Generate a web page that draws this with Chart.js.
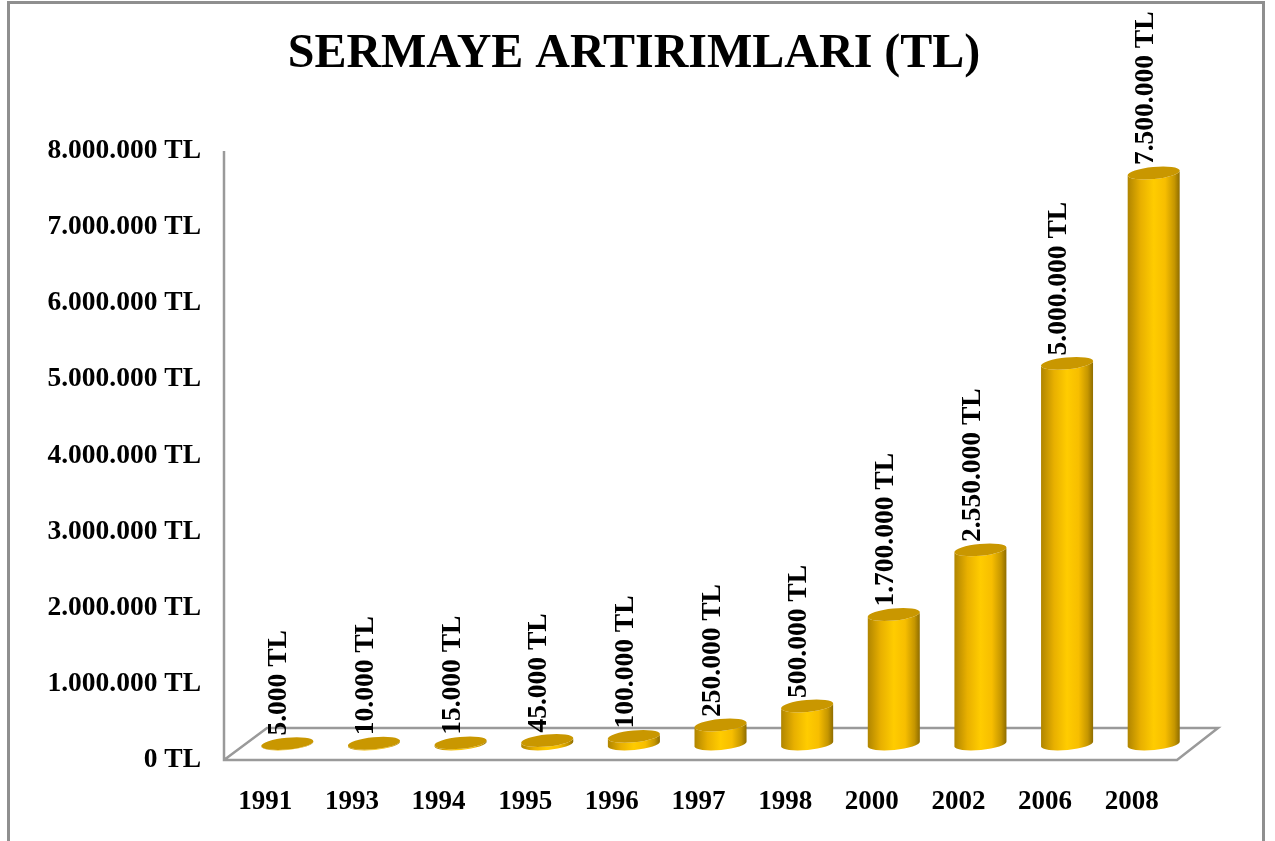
<!DOCTYPE html>
<html><head><meta charset="utf-8">
<style>
html,body{margin:0;padding:0;background:#fff;overflow:hidden}
#frame{position:absolute;left:7px;top:1px;width:1252px;height:860px;border:3px solid #8f8f8f;box-sizing:content-box}
#wrap{position:absolute;left:0;top:0;width:1275px;height:841px}
</style>
<script src="https://cdn.jsdelivr.net/npm/chart.js@4/dist/chart.umd.min.js"></script>
</head><body>
<div id="frame"></div>
<div id="wrap"><canvas id="c" width="1275" height="841"></canvas></div>
<script>
const years = ['1991','1993','1994','1995','1996','1997','1998','2000','2002','2006','2008'];
const capital = [5000,10000,15000,45000,100000,250000,500000,1700000,2550000,5000000,7500000];
const chartTitle = 'SERMAYE ARTIRIMLARI (TL)';
const SERIF = '"Liberation Serif","Times New Roman",serif';
const DEPTH_X = 20, DEPTH_Y = 16;
const fmt = v => String(v).replace(/\B(?=(\d{3})+$)/g,'.') + ' TL';

function cylinder(ctx, el){
  const x = el.x + DEPTH_X, top = el.y - DEPTH_Y, base = el.base - DEPTH_Y;
  const w = el.width/2, ry = 6, rx = w + 0.2, tilt = -0.095, dy = w*Math.sin(-tilt);
  const g = ctx.createLinearGradient(x-w,0,x+w,0);
  g.addColorStop(0,'#b08500'); g.addColorStop(0.25,'#e8b000'); g.addColorStop(0.5,'#ffcc00');
  g.addColorStop(0.72,'#f7be00'); g.addColorStop(0.9,'#c59600'); g.addColorStop(1,'#8f6d00');
  ctx.save();
  ctx.beginPath();
  ctx.moveTo(x-w, top+dy);
  ctx.lineTo(x-w, base+dy);
  ctx.ellipse(x, base, rx, ry, tilt, Math.PI, 0, true);
  ctx.lineTo(x+w, top-dy);
  ctx.ellipse(x, top, rx, ry, tilt, 0, Math.PI, false);
  ctx.closePath();
  ctx.fillStyle = g; ctx.fill();
  ctx.beginPath();
  ctx.ellipse(x, top, rx, ry, tilt, 0, Math.PI*2);
  ctx.fillStyle = '#c99700'; ctx.fill();
  ctx.restore();
}

const scene = {
  id:'scene',
  beforeDatasetsDraw(chart){
    const {ctx, chartArea:a} = chart;
    ctx.save();
    ctx.strokeStyle = '#9a9a9a'; ctx.lineWidth = 2.5;
    ctx.beginPath();
    ctx.moveTo(a.left, a.top); ctx.lineTo(a.left, a.bottom); ctx.lineTo(a.right, a.bottom);
    ctx.lineTo(a.right+41, a.bottom-32); ctx.lineTo(a.left+43, a.bottom-32); ctx.lineTo(a.left, a.bottom);
    ctx.stroke();
    ctx.restore();
  },
  beforeDatasetDraw(chart, args){
    args.meta.data.forEach(el => { el.draw = c => cylinder(c, el); });
  },
  afterDatasetsDraw(chart){
    const ctx = chart.ctx;
    chart.getDatasetMeta(0).data.forEach((el,i) => {
      ctx.save();
      ctx.translate(el.x + DEPTH_X - 8, el.y - DEPTH_Y - 8);
      ctx.rotate(-Math.PI/2);
      ctx.font = 'bold 27.5px ' + SERIF;
      ctx.fillStyle = '#000';
      ctx.textAlign = 'left'; ctx.textBaseline = 'middle';
      ctx.fillText(fmt(capital[i]), 0, 0);
      ctx.restore();
    });
  }
};

new Chart(document.getElementById('c'), {
  type:'bar',
  data:{labels:years, datasets:[{data:capital, backgroundColor:'#ffc800', barPercentage:0.6, categoryPercentage:1, clip:false, yAxisID:'y'}]},
  plugins:[scene],
  options:{
    responsive:false, animation:false,
    layout:{padding:{left:0,right:7,top:0,bottom:0}},
    plugins:{
      legend:{display:false}, tooltip:{enabled:false},
      title:{display:true, text:chartTitle, color:'#000',
        font:{family:SERIF, size:48, weight:'bold', lineHeight:1.2},
        padding:{top:26,bottom:67.4}}
    },
    scales:{
      x:{grid:{display:false,drawTicks:false}, border:{display:false},
        ticks:{color:'#000', font:{family:SERIF,size:27,weight:'bold'}, padding:26, maxRotation:0, autoSkip:false, labelOffset:-2},
        afterFit(s){ s.height = 81; }},
      y:{min:0,max:8000000, grid:{display:false,drawTicks:false}, border:{display:false},
        ticks:{stepSize:1000000, color:'#000', font:{family:SERIF,size:27.5,weight:'bold'}, padding:23, callback:v=>fmt(v)},
        afterFit(s){ s.width = 224; }},
      spacer:{position:'right', display:true, min:0, max:8000000, grid:{display:false,drawTicks:false}, border:{display:false},
        ticks:{display:false},
        afterFit(s){ s.width = 91; }}
    }
  }
});
</script>
</body></html>
